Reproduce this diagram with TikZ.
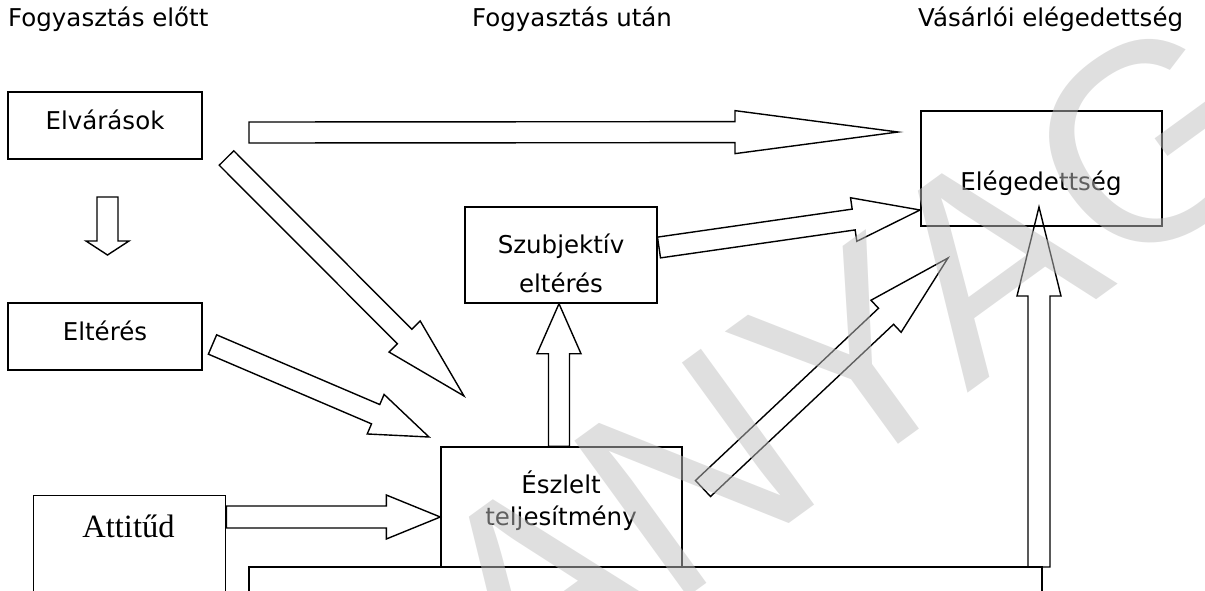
\documentclass[tikz,border=0pt]{standalone}
\usepackage{fontspec}
\setmainfont{DejaVu Sans}
\newfontfamily\attfont{Liberation Serif}
\newfontfamily\wmfont{Liberation Sans}
\usetikzlibrary{calc}
\tikzset{
  boxnode/.style={draw=black, line width=1.4pt, rectangle, inner sep=0pt},
  lbl/.style={anchor=base, inner sep=0pt, font=\fontsize{24.5}{30}\selectfont},
  head/.style={anchor=base west, inner sep=0pt, font=\fontsize{24.5}{30}\selectfont},
  blockarrow/.style={draw=black, line width=1.4pt, line join=miter},
}
% #2 tail, #3 tip, #4 head length, #5 half shaft width, #6 half head width
\newcommand\blockarr[6][]{%
  \path let \p1=($(#3)-(#2)$) in \pgfextra{%
    \pgfmathsetmacro\baang{atan2(\y1,\x1)}%
    \pgfmathsetmacro\balen{veclen(\x1,\y1)}%
    \global\let\baang\baang \global\let\balen\balen};
  \begin{scope}[shift={(#2)},rotate=\baang]
    \draw[blockarrow,#1] (0,-#5) -- (\balen-#4,-#5) -- (\balen-#4,-#6) -- (\balen,0)
      -- (\balen-#4,#6) -- (\balen-#4,#5) -- (0,#5) -- cycle;
  \end{scope}}
\begin{document}
\begin{tikzpicture}[x=1pt,y=-1pt]
\useasboundingbox (0,0) rectangle (1205,591);
\clip (0,0) rectangle (1205,591);
% headers
\node[head] (h1) at (8,27) {Fogyasztás előtt};
\node[head] (h2) at (472,27) {Fogyasztás után};
\node[head] (h3) at (918,27) {Vásárlói elégedettség};
% boxes
\node[boxnode, minimum width=194pt, minimum height=67pt] (elv) at (105,125.5) {};
\node[lbl] (elvt) at (105,130) {Elvárások};
\node[boxnode, minimum width=194pt, minimum height=67pt] (elt) at (105,336.5) {};
\node[lbl] (eltt) at (105,340) {Eltérés};
\node[boxnode, minimum width=192pt, minimum height=130pt, anchor=north west] (att) at (33,495) {};
\node[anchor=base, inner sep=0pt, font=\attfont\fontsize{32.5}{36}\selectfont] (attt) at (128.5,537) {Attitűd};
\node[boxnode, minimum width=192pt, minimum height=96pt] (szu) at (561,255) {};
\node[lbl] (szu1) at (561,253) {Szubjektív};
\node[lbl] (szu2) at (561,292) {eltérés};
\node[boxnode, minimum width=241pt, minimum height=120pt] (esz) at (561.5,507) {};
\node[lbl] (esz1) at (561,493) {Észlelt};
\node[lbl] (esz2) at (561,525) {teljesítmény};
\node[boxnode, minimum width=241pt, minimum height=115pt] (ele) at (1041.5,168.5) {};
\node[lbl] (elet) at (1041,190) {Elégedettség};
% arrow end points
\coordinate (a1s) at (249,132.5);   \coordinate (a1e) at (898,132);
\coordinate (a2s) at (226.5,158);   \coordinate (a2e) at (464,396);
\coordinate (a3s) at (212.5,344.5); \coordinate (a3e) at (429,437);
\coordinate (a4s) at (att.north east |- 0,517); \coordinate (a4e) at (esz.west |- 0,517);
\coordinate (a5s) at (esz.north -| 559,0); \coordinate (a5e) at (szu.south -| 559,0);
\coordinate (a6s) at (659,247.5);   \coordinate (a6e) at (920,210);
\coordinate (a7s) at (703,488.5);   \coordinate (a7e) at (948,258);
\coordinate (a8s) at (1039,567);    \coordinate (a8e) at (1039,207);
\coordinate (a9s) at (107.5,197);   \coordinate (a9e) at (107.5,255);
% arrows
\blockarr{a1s}{a1e}{163}{10.5}{21.5}
\blockarr{a2s}{a2e}{84}{10.25}{22}
\blockarr{a3s}{a3e}{58}{10.5}{21.5}
\blockarr{a4s}{a4e}{54}{11}{22}
\blockarr{a5s}{a5e}{50}{10.5}{22}
\blockarr{a6s}{a6e}{67}{10.5}{22}
\blockarr{a7s}{a7e}{85}{11}{22}
\blockarr{a8s}{a8e}{89}{11}{22}
\blockarr{a9s}{a9e}{14}{10.5}{21.5}
% bottom bar
\draw[blockarrow] (249,620) -- (249,567) -- (1042,567) -- (1042,620);
% watermark
\node[rotate=36, text=black!25, opacity=0.5, inner sep=0pt, font=\wmfont\fontsize{280}{280}\selectfont] (wm) at (850,360) {ANYAG};
\end{tikzpicture}
\end{document}
